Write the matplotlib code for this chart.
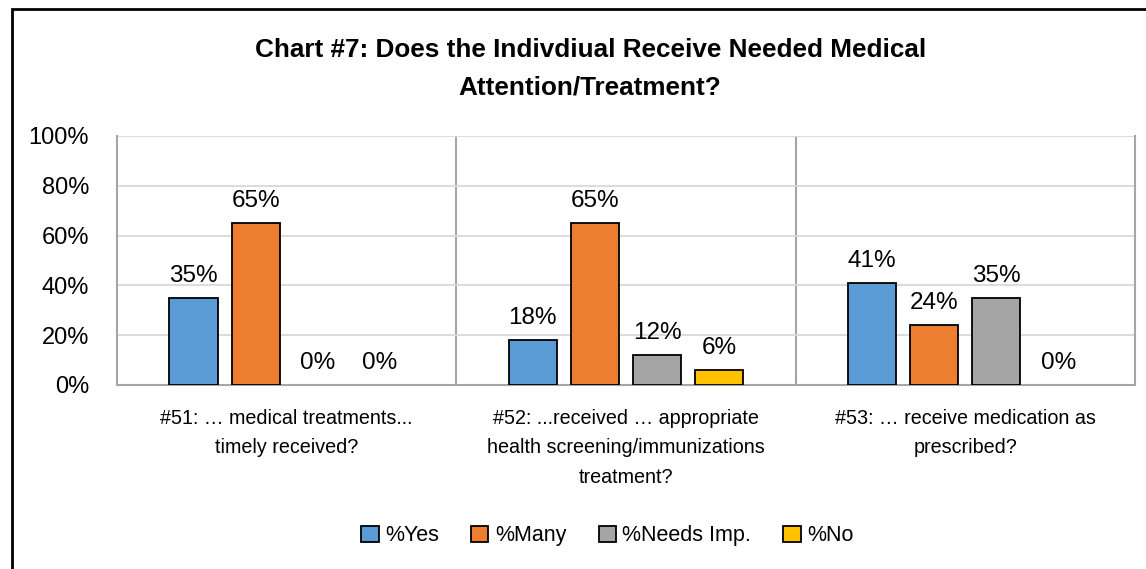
import matplotlib
matplotlib.use("Agg")
from matplotlib import pyplot as plt
from matplotlib.patches import Rectangle
import numpy as np

plt.rcParams['font.family'] = ['Liberation Sans', 'DejaVu Sans']

# data
categories = ["#51: \u2026 medical treatments...\ntimely received?",
              "#52: ...received \u2026 appropriate\nhealth screening/immunizations\ntreatment?",
              "#53: \u2026 receive medication as\nprescribed?"]
series = ["%Yes", "%Many", "%Needs Imp.", "%No"]
yes = [35, 18, 41]
many = [65, 65, 24]
needs_imp = [0, 12, 35]
no = [0, 6, 0]
colors = ["#5b9bd5", "#ed7d31", "#a5a5a5", "#ffc000"]

fig = plt.figure(figsize=(11.46, 5.69), dpi=100)
ax = fig.add_axes([0.1021, 0.3234, 0.8883, 0.4376])

x = np.arange(len(categories))
width = 0.142
step = 0.183
for i, (name, vals) in enumerate(zip(series, [yes, many, needs_imp, no])):
    pos = x + (i - 1.5) * step
    bars = ax.bar(pos, vals, width, color=colors[i], edgecolor='black',
                  linewidth=1.3, label=name, zorder=3)
    # empty bars show no outline
    for b, v in zip(bars, vals):
        if v == 0:
            b.set_linewidth(0)
    for p, v in zip(pos, vals):
        ax.text(p, v + 4.5, f"{v}%", ha='center', va='bottom', fontsize=17.5)

ax.set_xlim(-0.5, 2.5)
ax.set_ylim(0, 100)
ax.set_yticks(np.arange(0, 101, 20))
ax.set_yticklabels([f"{t}%" for t in range(0, 101, 20)], fontsize=17)
ax.yaxis.grid(True, color='#d9d9d9', linewidth=1.3, zorder=0)
ax.set_xticks(x)
ax.set_xticklabels(categories, fontsize=14.2, linespacing=1.72)
ax.tick_params(axis='both', length=0)
ax.tick_params(axis='x', pad=17)
ax.tick_params(axis='y', pad=20)
for sep in [0.5, 1.5]:
    ax.axvline(sep, color='#a6a6a6', linewidth=1.5, zorder=1)
for s in ['left', 'bottom', 'right']:
    ax.spines[s].set_color('#a6a6a6')
    ax.spines[s].set_linewidth(1.5)
ax.spines['top'].set_visible(False)

fig.text(0.515, 0.879, "Chart #7: Does the Indivdiual Receive Needed Medical\nAttention/Treatment?",
         ha='center', va='center', fontsize=18.8, fontweight='bold', linespacing=1.7)

leg = fig.legend(loc='center', bbox_to_anchor=(0.53, 0.058), ncol=4, frameon=False,
                 fontsize=15.5, handlelength=0.8, handleheight=0.8, handletextpad=0.3,
                 columnspacing=1.5)
for h in leg.legend_handles:
    h.set_linewidth(1.3)

# outer frame of the chart area
fig.patches.append(Rectangle((12 / 1146, -0.05), 1.2, 0.05 + (569 - 9) / 569,
                             transform=fig.transFigure, fill=False,
                             edgecolor='black', linewidth=2))

fig.savefig("out.png", dpi=100)
